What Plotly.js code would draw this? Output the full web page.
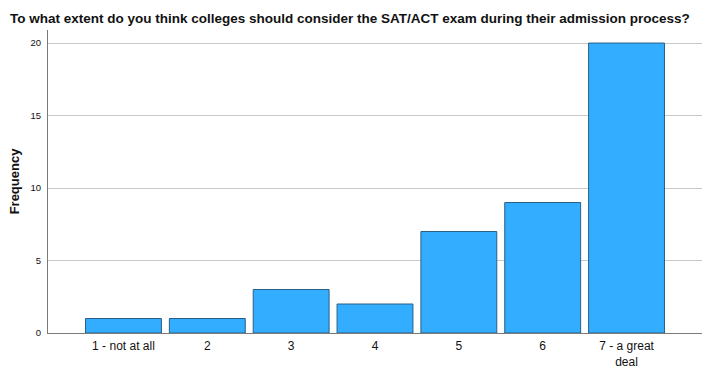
<!DOCTYPE html>
<html>
<head>
<meta charset="utf-8">
<script src="https://cdn.plot.ly/plotly-3.0.1.min.js"></script>
<style>html,body{margin:0;padding:0;background:#fff;}#chart{width:713px;height:373px;}</style>
</head>
<body>
<div id="chart"></div>
<script>
const categories = ["1 - not at all", "2", "3", "4", "5", "6", "7 - a great<br>deal"];
const frequencies = [1, 1, 3, 2, 7, 9, 20];
const yTicks = [0, 5, 10, 15, 20];
const titleText = "To what extent do you think colleges should consider the SAT/ACT exam during their admission process?";
const yTitle = "Frequency";

const trace = {
  type: "bar",
  x: categories.map((c, i) => i),
  y: frequencies,
  marker: {color: "#33ADFF", line: {color: "#2A5E86", width: 1}},
  hoverinfo: "skip"
};

const layout = {
  width: 713, height: 373,
  margin: {l: 48, r: 11, t: 30, b: 40},
  paper_bgcolor: "#fff", plot_bgcolor: "#fff",
  bargap: 0.095,
  showlegend: false,
  font: {family: "Liberation Sans, Arial, sans-serif", color: "#000"},
  title: {text: titleText, x: 0.014, xanchor: "left", y: 0.95, yanchor: "middle",
          font: {size: 13.5, family: "Liberation Sans, Arial, sans-serif", weight: "bold", color: "#111"}},
  xaxis: {
    range: [-0.9, 6.9],
    tickvals: categories.map((c, i) => i),
    ticktext: categories,
    showgrid: false, zeroline: false,
    showline: true, linecolor: "#7a7a7a", linewidth: 1,
    ticks: "", ticklabelstandoff: 2, tickfont: {size: 12, color: "#111"}
  },
  yaxis: {
    range: [0, 20.9],
    tickvals: yTicks,
    showgrid: true, gridcolor: "#c8c8c8", gridwidth: 1,
    zeroline: false, showline: true, linecolor: "#7a7a7a", linewidth: 1,
    ticks: "", ticklabelstandoff: 4, tickfont: {size: 9.5, color: "#111"},
    title: {text: yTitle, standoff: 7, font: {size: 13, weight: "bold", color: "#111"}}
  }
};

Plotly.newPlot("chart", [trace], layout, {staticPlot: true, displayModeBar: false});
</script>
</body>
</html>
